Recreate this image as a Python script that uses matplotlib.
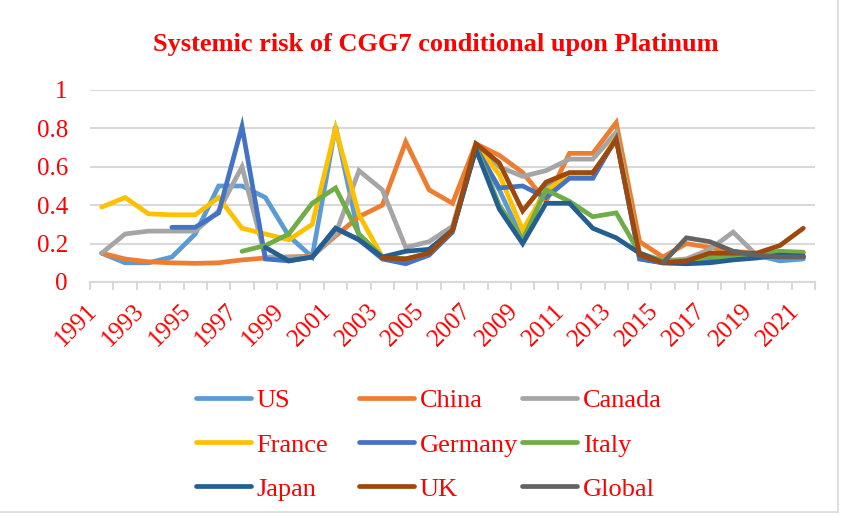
import numpy as np
import matplotlib
matplotlib.use("Agg")
import matplotlib.pyplot as plt
from matplotlib.lines import Line2D
from matplotlib.patches import Rectangle

nan = np.nan
years = list(range(1991, 2022))

us = [0.15, 0.10, 0.10, 0.13, 0.25, 0.50, 0.50, 0.44, 0.24, 0.13, 0.81, 0.24, 0.13, 0.10, 0.15, 0.27,
      0.70, 0.48, 0.22, 0.50, 0.55, 0.55, 0.75, 0.12, 0.10, 0.10, 0.12, 0.13, 0.14, 0.11, 0.12]
china = [0.15, 0.12, 0.105, 0.10, 0.097, 0.10, 0.115, 0.125, 0.13, 0.135, 0.24, 0.34, 0.40, 0.73, 0.48, 0.41,
         0.72, 0.66, 0.57, 0.42, 0.67, 0.67, 0.83, 0.21, 0.13, 0.20, 0.18, 0.16, 0.15, 0.15, 0.15]
canada = [0.15, 0.25, 0.265, 0.265, 0.265, 0.37, 0.60, 0.13, 0.13, 0.13, 0.25, 0.58, 0.48, 0.18, 0.21, 0.29,
          0.71, 0.60, 0.55, 0.58, 0.64, 0.64, 0.78, 0.15, 0.11, 0.12, 0.17, 0.26, 0.14, 0.13, 0.13]
france = [0.39, 0.44, 0.355, 0.35, 0.35, 0.44, 0.28, 0.25, 0.22, 0.30, 0.80, 0.35, 0.13, 0.12, 0.15, 0.27,
          0.71, 0.56, 0.27, 0.48, 0.55, 0.55, 0.76, 0.14, 0.11, 0.10, 0.12, 0.13, 0.14, 0.15, 0.13]
germany = [nan, nan, nan, 0.285, 0.285, 0.36, 0.81, 0.12, 0.11, 0.13, 0.28, 0.22, 0.12, 0.095, 0.14, 0.26,
           0.70, 0.49, 0.50, 0.44, 0.54, 0.54, 0.75, 0.12, 0.10, 0.10, 0.11, 0.12, 0.13, 0.16, 0.13]
italy = [nan, nan, nan, nan, nan, nan, 0.16, 0.19, 0.25, 0.41, 0.49, 0.25, 0.13, 0.12, 0.15, 0.27,
         0.70, 0.40, 0.22, 0.48, 0.42, 0.34, 0.36, 0.15, 0.11, 0.11, 0.13, 0.13, 0.14, 0.16, 0.155]
japan = [nan, nan, nan, nan, nan, nan, nan, 0.18, 0.11, 0.13, 0.28, 0.22, 0.13, 0.16, 0.17, 0.27,
         0.69, 0.38, 0.20, 0.41, 0.41, 0.28, 0.23, 0.15, 0.10, 0.095, 0.10, 0.115, 0.125, 0.14, 0.135]
uk = [nan, nan, nan, nan, nan, nan, nan, nan, nan, nan, nan, nan, 0.125, 0.12, 0.15, 0.27,
      0.72, 0.62, 0.37, 0.52, 0.57, 0.57, 0.74, 0.14, 0.10, 0.11, 0.15, 0.15, 0.15, 0.19, 0.28]
global_ = [nan] * 24 + [0.10, 0.23, 0.21, 0.16, 0.14, 0.13, 0.13]

names = ["US", "China", "Canada", "France", "Germany", "Italy", "Japan", "UK", "Global"]
series = [us, china, canada, france, germany, italy, japan, uk, global_]
colors = ["#5B9BD5", "#ED7D31", "#A5A5A5", "#FFC000", "#4472C4", "#70AD47",
          "#255E91", "#9E480E", "#636363"]

plt.rcParams["font.family"] = ["Liberation Serif", "DejaVu Serif"]

fig = plt.figure(figsize=(8.52, 5.17), dpi=100)
# chart border (right and bottom edges visible)
fig.patches.append(Rectangle((-0.01, 1 - 512 / 517), 838 / 852 + 0.01, 512 / 517 + 0.01,
                             transform=fig.transFigure, fill=False,
                             edgecolor="#D9D9D9", lw=1.2))
ax = fig.add_axes([90 / 852, 1 - 282 / 517, 725 / 852, 192 / 517])

x = np.arange(len(years))
for vals, c in zip(series, colors):
    ax.plot(x, vals, color=c, lw=3.4, solid_capstyle="round", solid_joinstyle="miter")

ax.set_xlim(-0.5, len(years) - 0.5)
ax.set_ylim(0, 1)
ax.set_yticks(np.arange(0, 1.01, 0.2))
ax.set_yticklabels(["0", "0.2", "0.4", "0.6", "0.8", "1"], color="red", fontsize=18)
ax.yaxis.grid(True, color="#D9D9D9", lw=1.5)
ax.set_axisbelow(True)
ax.tick_params(axis="y", length=0, pad=16)

ax.set_xticks(x[::2])
ax.set_xticklabels([str(y) for y in years[::2]], color="red", fontsize=18,
                   rotation=45, ha="right", va="top")
ax.set_xticks(np.arange(-0.5, len(years)), minor=True)
ax.tick_params(axis="x", which="major", length=0, pad=13)
ax.tick_params(axis="x", which="minor", length=6, color="#D9D9D9", width=1.5)

for s in ["top", "right", "left"]:
    ax.spines[s].set_visible(False)
ax.spines["bottom"].set_color("#D9D9D9")
ax.spines["bottom"].set_linewidth(1.5)

fig.text(436 / 852, 1 - 45 / 517, "Systemic risk of CGG7 conditional upon Platinum",
         color="red", fontsize=19, fontweight="bold", ha="center", va="center")

# legend: three columns of equal width like Excel
col_x = [196 / 852, 359 / 852, 522 / 852]
for ci in range(3):
    idx = [ci, ci + 3, ci + 6]
    handles = [Line2D([0], [0], color=colors[i], lw=3.4, solid_capstyle="round") for i in idx]
    fig.legend(handles, [names[i] for i in idx], loc="upper left",
               bbox_to_anchor=(col_x[ci], 1 - 389 / 517), frameon=False,
               fontsize=19, labelcolor="red", handlelength=2.1, handletextpad=0.2,
               labelspacing=0.78, borderpad=0, borderaxespad=0)

fig.savefig("out.png", dpi=100)
